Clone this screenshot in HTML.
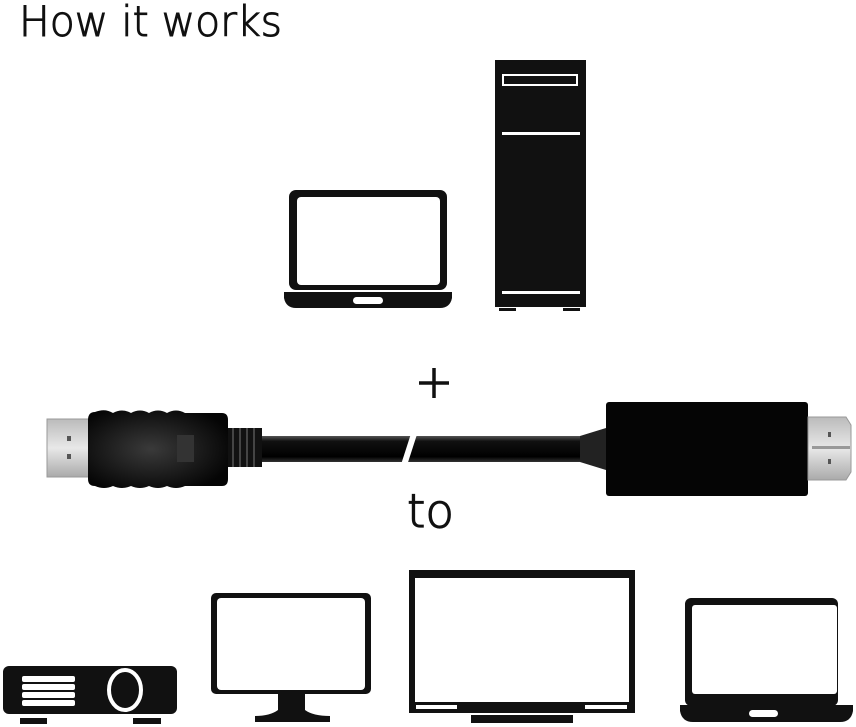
<!DOCTYPE html>
<html><head><meta charset="utf-8"><style>
html,body{margin:0;padding:0;background:#fff;}
svg{display:block;}
</style></head><body>
<svg width="856" height="727" viewBox="0 0 856 727" xmlns="http://www.w3.org/2000/svg">
<defs>
<radialGradient id="g1" cx="0.45" cy="0.5" r="0.6"><stop offset="0" stop-color="#3a3a3a"/><stop offset="1" stop-color="#050505"/></radialGradient>
<linearGradient id="met" x1="0" y1="0" x2="0" y2="1"><stop offset="0" stop-color="#bbb"/><stop offset="0.5" stop-color="#e8e8e8"/><stop offset="1" stop-color="#aaa"/></linearGradient>
<linearGradient id="cab" x1="0" y1="0" x2="0" y2="1"><stop offset="0" stop-color="#555"/><stop offset="0.2" stop-color="#111"/><stop offset="0.8" stop-color="#000"/><stop offset="1" stop-color="#333"/></linearGradient>
</defs>
<text x="19" y="36" font-family="DejaVu Sans, Liberation Sans, sans-serif" font-weight="200" font-size="42" fill="#111" stroke="#111" stroke-width="1" textLength="263" lengthAdjust="spacingAndGlyphs">How it works</text>

<!-- laptop top -->
<rect x="289" y="190" width="158" height="100" rx="7" fill="#111"/>
<rect x="297" y="197" width="143" height="88" rx="4" fill="#fff"/>
<path d="M284 292 L452 292 L452 298 Q450 308 440 308 L296 308 Q286 308 284 298 Z" fill="#111"/>
<rect x="353" y="297" width="30" height="7" rx="3.5" fill="#fff"/>

<!-- tower -->
<rect x="495" y="60" width="91" height="247" fill="#111"/>
<rect x="503" y="75" width="74" height="10" fill="none" stroke="#fff" stroke-width="2"/>
<rect x="502" y="132" width="78" height="3" fill="#fff"/>
<rect x="502" y="291" width="78" height="3" fill="#fff"/>
<rect x="499" y="308" width="17" height="3" fill="#111"/>
<rect x="563" y="308" width="17" height="3" fill="#111"/>

<!-- plus -->
<path d="M419 383 H449 M434 368 V398" stroke="#111" stroke-width="3.5"/>

<!-- cable -->
<rect x="47" y="419" width="45" height="58" fill="url(#met)" stroke="#999" stroke-width="1"/>
<rect x="67" y="436" width="4" height="5" fill="#555"/>
<rect x="67" y="454" width="4" height="5" fill="#555"/>
<path d="M95 412 Q105 408 113 413 Q122 408 131 413 Q140 408 149 413 Q158 408 167 413 Q176 408 185 413 L222 413 Q228 413 228 420 L228 479 Q228 486 222 486 L185 486 Q176 490 167 486 Q158 490 149 486 Q140 490 131 486 Q122 490 113 486 Q104 490 95 486 Q88 486 88 479 L88 420 Q88 412 95 412 Z" fill="url(#g1)"/>
<rect x="177" y="435" width="17" height="27" fill="#333"/>
<rect x="228" y="428" width="34" height="39" fill="#111"/>
<path d="M233 428 V467 M240 428 V467 M247 428 V467 M254 428 V467" stroke="#555" stroke-width="1.5"/>
<rect x="262" y="436" width="321" height="26" fill="url(#cab)"/>
<path d="M414 434 L404 465" stroke="#fff" stroke-width="6"/>
<path d="M580 436 L606 428 L606 470 L580 462 Z" fill="#222"/>
<rect x="606" y="402" width="202" height="94" rx="3" fill="#050505"/>
<path d="M808 417 L846 417 L851 425 L851 472 L846 480 L808 480 Z" fill="url(#met)" stroke="#999" stroke-width="1"/>
<rect x="812" y="446" width="38" height="3" fill="#999"/>
<rect x="828" y="432" width="3" height="5" fill="#555"/>
<rect x="828" y="459" width="3" height="5" fill="#555"/>

<text x="407" y="527" font-family="DejaVu Sans, Liberation Sans, sans-serif" font-weight="200" font-size="46" fill="#111" stroke="#111" stroke-width="1.2" textLength="47" lengthAdjust="spacingAndGlyphs">to</text>

<!-- projector -->
<rect x="3" y="666" width="174" height="48" rx="6" fill="#111"/>
<rect x="22" y="676" width="53" height="6" rx="2" fill="#fff"/>
<rect x="22" y="684" width="53" height="6" rx="2" fill="#fff"/>
<rect x="22" y="692" width="53" height="6" rx="2" fill="#fff"/>
<rect x="22" y="700" width="53" height="6" rx="2" fill="#fff"/>
<ellipse cx="125" cy="690" rx="16" ry="20" fill="#111" stroke="#fff" stroke-width="4"/>
<rect x="20" y="718" width="27" height="6" fill="#111"/>
<rect x="133" y="718" width="28" height="6" fill="#111"/>

<!-- monitor -->
<rect x="211" y="593" width="160" height="101" rx="5" fill="#111"/>
<rect x="217" y="598" width="148" height="92" rx="4" fill="#fff"/>
<rect x="278" y="694" width="27" height="18" fill="#111"/>
<path d="M278 710 Q270 716 255 716 L255 722 L330 722 L330 716 Q313 716 305 710 Z" fill="#111"/>

<!-- TV -->
<rect x="409" y="570" width="226" height="143" fill="#111"/>
<rect x="415" y="578" width="214" height="124" fill="#fff"/>
<rect x="416" y="705" width="41" height="4" fill="#fff"/>
<rect x="585" y="705" width="42" height="4" fill="#fff"/>
<rect x="471" y="715" width="102" height="8" fill="#111"/>

<!-- laptop bottom -->
<rect x="685" y="598" width="153" height="108" rx="6" fill="#111"/>
<rect x="692" y="605" width="145" height="89" rx="3" fill="#fff"/>
<path d="M680 705 L853 705 L853 711 Q851 722 840 722 L693 722 Q682 722 680 711 Z" fill="#111"/>
<rect x="749" y="710" width="29" height="7" rx="3.5" fill="#fff"/>
</svg>
</body></html>
